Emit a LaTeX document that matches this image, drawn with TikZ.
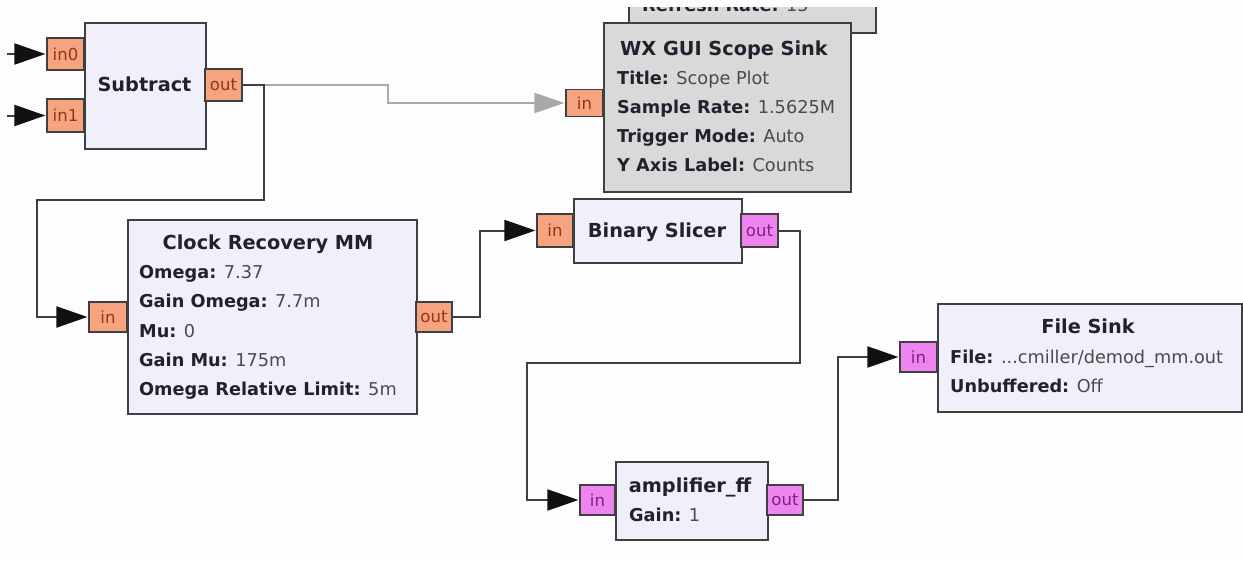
\documentclass[tikz,border=0pt]{standalone}
\usepackage{fontspec}
\setmainfont{DejaVu Sans}
\usetikzlibrary{arrows.meta}
\definecolor{bgc}{HTML}{FDFCFF}
\definecolor{blockfill}{HTML}{EFF0FA}
\definecolor{edgec}{HTML}{3F3F3F}
\definecolor{portorange}{HTML}{F6A37F}
\definecolor{portpink}{HTML}{EE84EE}
\definecolor{ptxto}{HTML}{9A3418}
\definecolor{ptxtp}{HTML}{7E2286}
\definecolor{scopefill}{HTML}{D9D9D9}
\definecolor{txtc}{HTML}{22222E}
\definecolor{valc}{HTML}{4A4A4A}
\definecolor{graylinec}{HTML}{A9A9A9}
\definecolor{tipc}{HTML}{111111}
\newcommand\fsz[1]{\fontsize{#1}{#1}\selectfont}
\newcommand\kv[2]{{\bfseries\color{txtc}#1} #2}
\begin{document}
\begin{tikzpicture}[x=1pt,y=-1pt,
  blk/.style={draw=edgec, line width=1.5pt, fill=blockfill, inner sep=0pt, anchor=north west},
  scopeblk/.style={draw=edgec, line width=2pt, fill=scopefill, inner sep=0pt, anchor=north west},
  oport/.style={draw=edgec, line width=1.2pt, fill=portorange, text=ptxto, inner sep=0pt, font=\fsz{16.5}, minimum width=37pt},
  pport/.style={draw=edgec, line width=1.2pt, fill=portpink, text=ptxtp, inner sep=0pt, font=\fsz{16.5}, minimum width=37pt},
  ttl/.style={font=\fsz{19.3}\bfseries, text=txtc, anchor=base, inner sep=0pt},
  lbl/.style={font=\fsz{17.7}, text=valc, anchor=base west, inner sep=0pt},
  conn/.style={draw=edgec, line width=2pt, -{Triangle[length=31pt,width=21pt,color=tipc]}, shorten >=1pt},
  gconn/.style={draw=graylinec, line width=2pt, -{Triangle[length=30pt,width=20pt]}, shorten >=1pt}
]
\fill[bgc] (0,0) rectangle (1243,562);
\useasboundingbox (0,0) rectangle (1243,562);

% background (partially hidden) scope block
\begin{scope}
\clip (0,7) rectangle (1243,562);
\node[scopeblk, minimum width=247pt, minimum height=52pt] (refresh) at (628,-20) {};
\node[lbl] (refreshtxt) at (642,12) {\kv{Refresh Rate:}{15}};
\end{scope}

% blocks
\node[blk, minimum width=121pt, minimum height=126pt] (sub) at (84,22) {};
\node[ttl] (subt) at (144.5,91) {Subtract};

\node[scopeblk, minimum width=247pt, minimum height=169pt] (scope) at (603,22) {};
\node[ttl] (scopet) at (724,55) {WX GUI Scope Sink};
\node[lbl] (scope1) at (617,84) {\kv{Title:}{Scope Plot}};
\node[lbl] (scope2) at (617,113) {\kv{Sample Rate:}{1.5625M}};
\node[lbl] (scope3) at (617,142) {\kv{Trigger Mode:}{Auto}};
\node[lbl] (scope4) at (617,171) {\kv{Y Axis Label:}{Counts}};

\node[blk, minimum width=289pt, minimum height=194pt] (clk) at (127,219) {};
\node[ttl] (clkt) at (268,249) {Clock Recovery MM};
\node[lbl] (clk1) at (139,278) {\kv{Omega:}{7.37}};
\node[lbl] (clk2) at (139,307.5) {\kv{Gain Omega:}{7.7m}};
\node[lbl] (clk3) at (139,337) {\kv{Mu:}{0}};
\node[lbl] (clk4) at (139,366) {\kv{Gain Mu:}{175m}};
\node[lbl] (clk5) at (139,395) {\kv{Omega Relative Limit:}{5m}};

\node[blk, minimum width=168pt, minimum height=64pt] (slc) at (573,198) {};
\node[ttl] (slct) at (657,237) {Binary Slicer};

\node[blk, minimum width=152pt, minimum height=78pt] (amp) at (615,461) {};
\node[ttl] (ampt) at (690,492) {amplifier\_ff};
\node[lbl] (amp1) at (629,521) {\kv{Gain:}{1}};

\node[blk, minimum width=304pt, minimum height=108pt] (fsk) at (937,303) {};
\node[ttl] (fskt) at (1088,333) {File Sink};
\node[lbl] (fsk1) at (950,363) {\kv{File:}{...cmiller/demod\_mm.out}};
\node[lbl] (fsk2) at (950,392) {\kv{Unbuffered:}{Off}};

% ports
\node[oport, minimum height=32pt] (subin0) at (65.5,54) {in0};
\node[oport, minimum height=33pt] (subin1) at (65.5,115.5) {in1};
\node[oport, minimum height=32pt] (subout) at (223.5,85) {out};
\node[oport, minimum height=27pt] (scopein) at (584.5,103) {in};
\node[oport, minimum height=30pt, minimum width=38pt] (clkin) at (108,317) {in};
\node[oport, minimum height=30pt, minimum width=36pt] (clkout) at (434,317) {out};
\node[oport, minimum height=33pt, minimum width=36pt] (slcin) at (555,230.5) {in};
\node[pport, minimum height=33pt] (slcout) at (759.5,230.5) {out};
\node[pport, minimum height=30pt, minimum width=35pt] (ampin) at (597.5,500) {in};
\node[pport, minimum height=30pt, minimum width=36pt] (ampout) at (785,500) {out};
\node[pport, minimum height=30pt] (fskin) at (918.5,357) {in};

% connectors
\coordinate (ext0) at (7,54);
\coordinate (ext1) at (7,115.5);
\draw[conn] (ext0) -- (subin0.west);
\draw[conn] (ext1) -- (subin1.west);
\draw[gconn] (subout.east) -| (388,103) -- (scopein.west);
\draw[conn] (subout.east) -- (264,85) -- (264,200) -- (37,200) -- (37,317) -- (clkin.west);
\draw[conn] (clkout.east) -- (480,317) |- (slcin.west);
\draw[conn] (slcout.east) -- (800,230.5) -- (800,363) -- (527,363) -- (527,500) -- (ampin.west);
\draw[conn] (ampout.east) -- (838,500) |- (fskin.west);
\end{tikzpicture}
\end{document}
